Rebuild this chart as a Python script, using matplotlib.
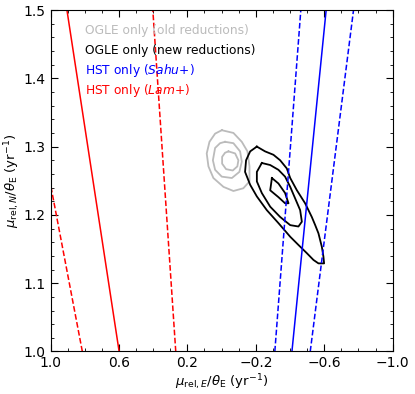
import matplotlib.pyplot as plt
import numpy as np

# constraint lines: (mu_E at mu_N=1.0, mu_E at mu_N=1.5)
lam_solid = [0.599, 0.904]
lam_dash1 = [0.814, 1.194]
lam_dash2 = [0.268, 0.402]
sahu_solid = [-0.411, -0.611]
sahu_dash1 = [-0.311, -0.463]
sahu_dash2 = [-0.518, -0.771]
line_y = [1.0, 1.5]

# OGLE old reductions (gray contours)
old_out_x = [-0.001, -0.069, -0.118, -0.151, -0.163, -0.163, -0.127, -0.069, -0.011, 0.048, 0.077, 0.087, 0.071, 0.038]
old_out_y = [1.324, 1.320, 1.307, 1.293, 1.271, 1.249, 1.239, 1.235, 1.241, 1.254, 1.271, 1.290, 1.307, 1.319]
old_mid_x = [-0.020, -0.069, -0.108, -0.118, -0.104, -0.060, -0.001, 0.038, 0.051, 0.038, 0.009]
old_mid_y = [1.307, 1.305, 1.293, 1.278, 1.263, 1.254, 1.256, 1.266, 1.280, 1.298, 1.305]
old_in_x = [-0.040, -0.079, -0.098, -0.092, -0.065, -0.026, -0.003, -0.003, -0.020]
old_in_y = [1.293, 1.290, 1.280, 1.271, 1.265, 1.267, 1.275, 1.285, 1.291]

# OGLE new reductions (black contours)
new_out_x = [-0.206, -0.254, -0.303, -0.342, -0.381, -0.401, -0.440, -0.488, -0.527, -0.547, -0.566, -0.586,
             -0.595, -0.599, -0.566, -0.537, -0.498, -0.449, -0.401, -0.332, -0.264, -0.206, -0.167, -0.137,
             -0.143, -0.167]
new_out_y = [1.300, 1.293, 1.288, 1.280, 1.268, 1.254, 1.236, 1.217, 1.197, 1.185, 1.173, 1.153,
             1.139, 1.129, 1.129, 1.134, 1.144, 1.156, 1.168, 1.188, 1.207, 1.227, 1.244, 1.263,
             1.280, 1.293]
new_mid_x = [-0.235, -0.284, -0.332, -0.371, -0.401, -0.430, -0.459, -0.469, -0.449, -0.401, -0.342, -0.284,
             -0.235, -0.206, -0.206]
new_mid_y = [1.276, 1.273, 1.266, 1.256, 1.241, 1.224, 1.207, 1.190, 1.183, 1.185, 1.197, 1.212,
             1.232, 1.249, 1.263]
new_in_x = [-0.294, -0.332, -0.371, -0.391, -0.371, -0.332, -0.284]
new_in_y = [1.254, 1.246, 1.232, 1.217, 1.217, 1.226, 1.236]

labels = ["OGLE only (old reductions)", "OGLE only (new reductions)",
          r"HST only ($\it{Sahu}$+)", r"HST only ($\it{Lam}$+)"]
label_colors = ["#bbbbbb", "black", "blue", "red"]

fig = plt.figure(figsize=(4.15, 3.94), dpi=100)
ax = fig.add_axes([0.1217, 0.1079, 0.8246, 0.8667])

def closed(x, y):
    return list(x) + [x[0]], list(y) + [y[0]]

for xs, ys in [(old_out_x, old_out_y), (old_mid_x, old_mid_y), (old_in_x, old_in_y)]:
    cx, cy = closed(xs, ys)
    ax.plot(cx, cy, color="#bbbbbb", lw=1.3)
for xs, ys in [(new_out_x, new_out_y), (new_mid_x, new_mid_y), (new_in_x, new_in_y)]:
    cx, cy = closed(xs, ys)
    ax.plot(cx, cy, color="black", lw=1.3)

ax.plot(lam_solid, line_y, color="red", lw=1.1)
ax.plot(lam_dash1, line_y, color="red", lw=1.1, ls="--")
ax.plot(lam_dash2, line_y, color="red", lw=1.1, ls="--")
ax.plot(sahu_solid, line_y, color="blue", lw=1.1)
ax.plot(sahu_dash1, line_y, color="blue", lw=1.1, ls="--")
ax.plot(sahu_dash2, line_y, color="blue", lw=1.1, ls="--")

for i in range(4):
    ax.text(0.10, 0.941 - i * 0.0586, labels[i], color=label_colors[i], fontsize=8.8,
            transform=ax.transAxes, va="center", ha="left")

ax.set_xlim(1.0, -1.0)
ax.set_ylim(1.0, 1.5)
ax.set_xticks([1.0, 0.6, 0.2, -0.2, -0.6, -1.0])
ax.set_xticks(np.arange(-1.0, 1.01, 0.1), minor=True)
ax.set_yticks([1.0, 1.1, 1.2, 1.3, 1.4, 1.5])
ax.set_yticks(np.arange(1.0, 1.501, 0.02), minor=True)
ax.tick_params(which="both", direction="in", top=True, right=True, labelsize=10)
ax.tick_params(which="major", length=5)
ax.tick_params(which="minor", length=2.5)
ax.set_xlabel(r"$\mu_{\rm rel,\it E}/\theta_{\rm E}$ (yr$^{-1}$)", fontsize=9.5, labelpad=1)
ax.set_ylabel(r"$\mu_{\rm rel,\it N}/\theta_{\rm E}$ (yr$^{-1}$)", fontsize=9.5, labelpad=1)

fig.savefig("out.png", dpi=100)
